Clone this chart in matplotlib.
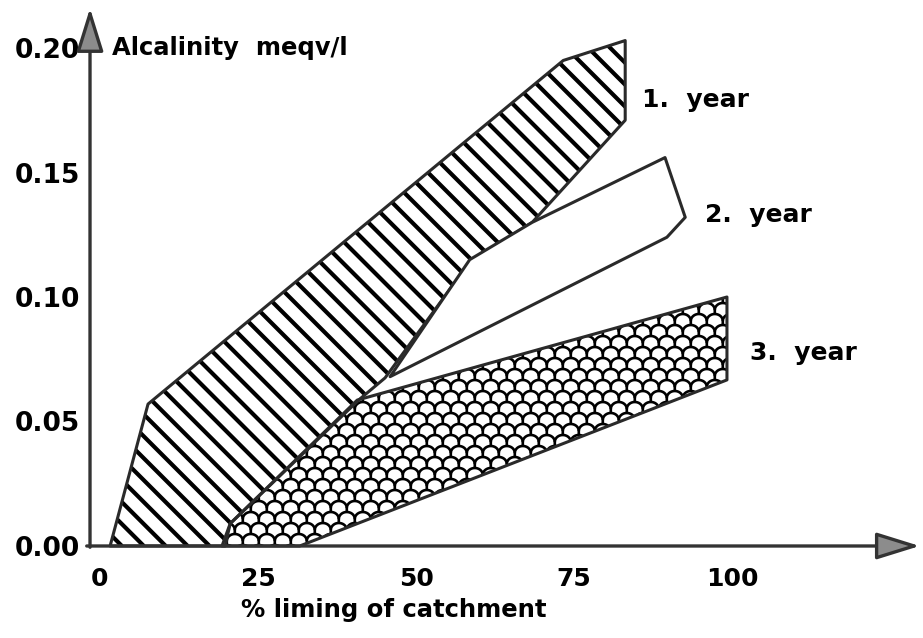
import numpy as np
import matplotlib
matplotlib.use('Agg')
import matplotlib.pyplot as plt
from matplotlib.patches import Polygon
from matplotlib.collections import LineCollection

plt.rcParams['font.family'] = ['DejaVu Sans']
plt.rcParams['font.weight'] = 'bold'

# outline of each band (x = % liming, y = alcalinity meqv/l)
year1_x = [1.6, 7.6, 73.3, 83.1, 83.1, 68.4, 58.5, 45.1, 41.1, 20.6, 19.8]
year1_y = [0.0, 0.057, 0.195, 0.203, 0.171, 0.130, 0.114, 0.0675, 0.059, 0.009, 0.0]

year2_x = [45.9, 58.5, 68.4, 89.4, 92.6, 89.7]
year2_y = [0.068, 0.115, 0.130, 0.156, 0.132, 0.124]

year3_x = [19.3, 20.6, 40.7, 99.2, 99.2, 31.6]
year3_y = [0.0, 0.009, 0.0586, 0.100, 0.0667, 0.0]

xticks = [0, 25, 50, 75, 100]
yticks = [0.00, 0.05, 0.10, 0.15, 0.20]
ytick_labels = ['0.00', '0.05', '0.10', '0.15', '0.20']

edge = '#2a2a2a'

fig = plt.figure(figsize=(9.23, 6.38), dpi=100)
ax = fig.add_axes([0.0878, 0.1286, 0.9107, 0.8703])
ax.set_xlim(-3, 130)
ax.set_ylim(-0.004, 0.219)
for s in ax.spines.values():
    s.set_visible(False)

# pixel size of one data unit, used for the fill textures
o = ax.transData.transform((0, 0))
sx = ax.transData.transform((1, 0))[0] - o[0]
sy = ax.transData.transform((0, 1))[1] - o[1]

# year 1: diagonal stripes clipped to the band
p1 = Polygon(np.column_stack([year1_x, year1_y]), closed=True, facecolor='white',
             edgecolor='none', zorder=2)
ax.add_patch(p1)
stripes = []
lo, hi = 0.0, 0.21 * sy
c = 0.0
while c < 90 * sx + hi:
    stripes.append([((c - lo) / sx, lo / sy), ((c - hi) / sx, hi / sy)])
    c += 15.5 * np.sqrt(2)
stripe_lc = LineCollection(stripes, colors='black', linewidths=3.0, zorder=3)
ax.add_collection(stripe_lc)
stripe_lc.set_clip_path(p1)
ax.add_patch(Polygon(np.column_stack([year1_x, year1_y]), closed=True, fill=False,
                     edgecolor=edge, lw=2.2, joinstyle='round', zorder=4))

# year 3: fish-scale fill (domes with a short stem under each cusp), clipped to the band
p3 = Polygon(np.column_stack([year3_x, year3_y]), closed=True, facecolor='white',
             edgecolor='none', zorder=2)
ax.add_patch(p3)
rx, ry, stem = 8.0, 7.0, 4.0
step_x, step_y = 16.0, 11.0
t = np.linspace(np.pi, 0, 19)
arcs = []
row = 0
py = -6.0
while py < 0.11 * sy:
    shift = (row % 2) * step_x / 2
    px = 15 * sx + shift
    while px < 102 * sx:
        xs = np.concatenate([[px - rx], px + rx * np.cos(t)])
        ys = np.concatenate([[py - stem], py + ry * np.sin(t)])
        arcs.append(np.column_stack([xs / sx, ys / sy]))
        px += step_x
    py += step_y
    row += 1
scales = LineCollection(arcs, colors='black', linewidths=1.9, zorder=3)
ax.add_collection(scales)
scales.set_clip_path(p3)
ax.add_patch(Polygon(np.column_stack([year3_x, year3_y]), closed=True, fill=False,
                     edgecolor=edge, lw=2.2, joinstyle='round', zorder=4))

# year 2: open band
ax.add_patch(Polygon(np.column_stack([year2_x, year2_y]), closed=True, facecolor='white',
                     edgecolor=edge, lw=2.2, joinstyle='round', zorder=4))

# axes with arrow heads
arrow = dict(arrowstyle='-|>,head_length=1.35,head_width=0.42', mutation_scale=20,
             facecolor='#8c8c8c', edgecolor='#333333', lw=2.4, shrinkA=0, shrinkB=0)
ax.annotate('', xy=(-1.58, 0.216), xytext=(-1.58, -0.0005), arrowprops=arrow,
            annotation_clip=False, zorder=5)
ax.annotate('', xy=(129.7, 0.0), xytext=(-2.1, 0.0), arrowprops=arrow,
            annotation_clip=False, zorder=5)

ax.set_xticks(xticks)
ax.set_yticks(yticks)
ax.set_yticklabels(ytick_labels)
ax.tick_params(length=0)
ax.tick_params(axis='y', pad=1, labelsize=19)
ax.tick_params(axis='x', pad=8, labelsize=18)

ax.text(1.9, 0.200, 'Alcalinity  meqv/l', fontsize=17.5, va='center', ha='left')
ax.text(85.8, 0.179, '1.  year', fontsize=18, va='center', ha='left')
ax.text(95.7, 0.133, '2.  year', fontsize=18, va='center', ha='left')
ax.text(102.8, 0.0775, '3.  year', fontsize=18, va='center', ha='left')
ax.text(46.5, -0.0257, '% liming of catchment', fontsize=17.5, va='center', ha='center',
        clip_on=False)

fig.savefig('out.png', dpi=100)
